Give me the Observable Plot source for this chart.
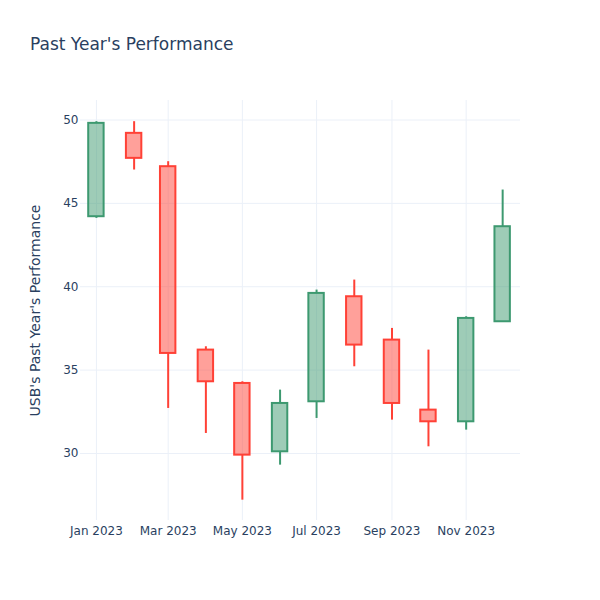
<!DOCTYPE html>
<html>
<head>
<meta charset="utf-8">
<script src="https://cdn.jsdelivr.net/npm/d3@7"></script>
<script src="https://cdn.jsdelivr.net/npm/@observablehq/plot@0.6"></script>
<style>
  body { margin: 0; background: #fff; font-family: "DejaVu Sans", sans-serif; }
  #wrap { width: 600px; height: 600px; position: relative; }
  #title { height: 60px; box-sizing: border-box; padding: 34px 0 0 30px; font-size: 17px; line-height: 20px; color: #2a3f5f; }
</style>
</head>
<body>
<div id="wrap">
  <div id="title">Past Year's Performance</div>
  <div id="chart"></div>
</div>
<script>
const dates  = ["2023-01-01","2023-02-01","2023-03-01","2023-04-01","2023-05-01","2023-06-01","2023-07-01","2023-08-01","2023-09-01","2023-10-01","2023-11-01","2023-12-01"];
const opens  = [44.2, 49.2, 47.2, 36.2, 34.2, 30.1, 33.1, 39.4, 36.8, 32.6, 31.9, 37.9];
const highs  = [49.9, 49.9, 47.5, 36.4, 34.3, 33.8, 39.8, 40.4, 37.5, 36.2, 38.2, 45.8];
const lows   = [44.1, 47.0, 32.7, 31.2, 27.2, 29.3, 32.1, 35.2, 32.0, 30.4, 31.4, 37.9];
const closes = [49.8, 47.7, 36.0, 34.3, 29.9, 33.0, 39.6, 36.5, 33.0, 31.9, 38.1, 43.6];
const yTicks = [30, 35, 40, 45, 50];

const GREEN = "#3D9970", RED = "#FF4136";
const rows = dates.map((d, i) => ({
  date: new Date(d + "T00:00:00Z"),
  open: opens[i], close: closes[i], high: highs[i], low: lows[i],
  up: closes[i] >= opens[i]
}));
const col = d => d.up ? GREEN : RED;

const chart = Plot.plot({
  width: 600,
  height: 540,
  marginTop: 40,
  marginBottom: 80,
  marginLeft: 80,
  marginRight: 80,
  style: { color: "#2a3f5f", fontSize: "12px", fontFamily: "DejaVu Sans, sans-serif", background: "#fff" },
  x: { type: "utc", domain: [new Date("2022-12-18T22:00:00Z"), new Date("2023-12-15T16:00:00Z")] },
  y: { domain: [25.98, 51.17] },
  color: { type: "identity" },
  marks: [
    Plot.gridY(yTicks, { stroke: "#ebf0f8", strokeOpacity: 1 }),
    Plot.gridX({ ticks: d3.utcMonth.every(2), stroke: "#ebf0f8", strokeOpacity: 1 }),
    Plot.axisY(yTicks, { tickSize: 0, tickPadding: 2, label: "USB's Past Year's Performance", labelAnchor: "center", labelArrow: "none", labelOffset: 50, fontSize: 12 }),
    Plot.axisX({ ticks: d3.utcMonth.every(2), tickFormat: d3.utcFormat("%b %Y"), tickSize: 0, tickPadding: 6, label: null }),
    Plot.ruleX(rows, { x: "date", y1: "low", y2: d => Math.min(d.open, d.close), stroke: col, strokeWidth: 2 }),
    Plot.ruleX(rows, { x: "date", y1: d => Math.max(d.open, d.close), y2: "high", stroke: col, strokeWidth: 2 }),
    Plot.rect(rows, {
      x1: d => d3.utcHour.offset(d.date, -152),
      x2: d => d3.utcHour.offset(d.date, 152),
      y1: "open", y2: "close",
      fill: col, fillOpacity: 0.5, stroke: col, strokeWidth: 2, inset: 0
    })
  ]
});
chart.querySelectorAll("[aria-label='y-axis label'] text, g[aria-label='y-axis label']").forEach(e => e.setAttribute("font-size", "14"));
document.getElementById("chart").appendChild(chart);
</script>
</body>
</html>
